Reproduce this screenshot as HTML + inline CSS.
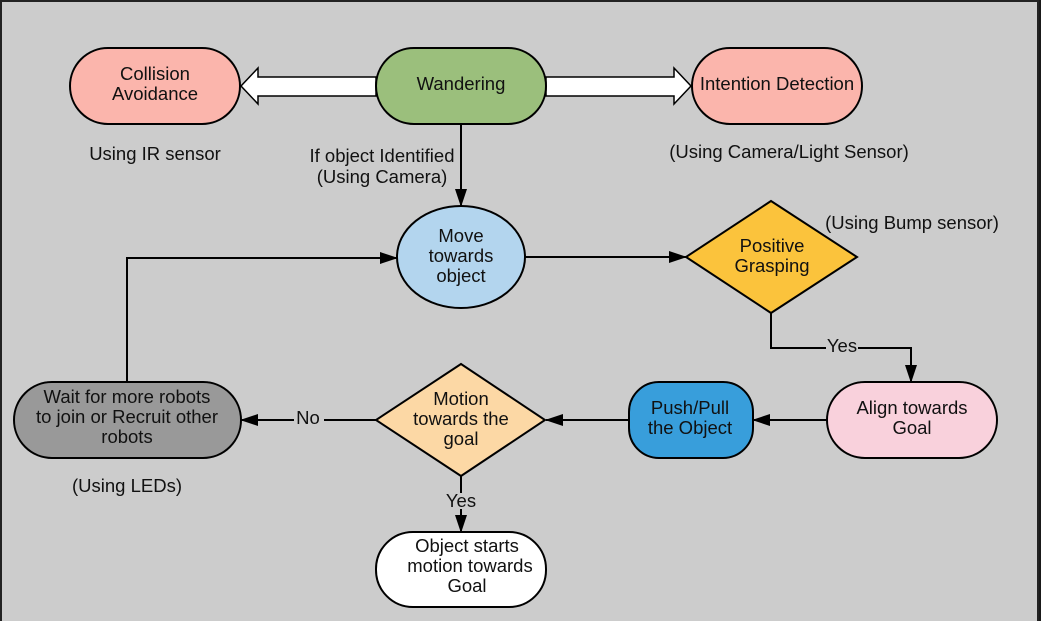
<!DOCTYPE html>
<html><head><meta charset="utf-8"><style>
html,body{margin:0;padding:0;background:#1a1a1a;}
svg{display:block;}
text{font-family:"Liberation Sans",sans-serif;font-size:18.5px;fill:#111;text-anchor:middle;}
</style></head><body>
<svg width="1041" height="621" viewBox="0 0 1041 621" xmlns="http://www.w3.org/2000/svg">
<defs><marker id="b" markerWidth="18" markerHeight="12" refX="17" refY="6" orient="auto" markerUnits="userSpaceOnUse"><path d="M0,0 L18,6 L0,12 z" fill="#000"/></marker></defs>
<rect x="1" y="1" width="1037" height="630" fill="#cccccc" stroke="#222" stroke-width="2"/>
<path d="M376,77 L258,77 L258,68 L241,86 L258,104 L258,96 L376,96 Z" fill="#fff" stroke="#000" stroke-width="1.5"/>
<path d="M546,77 L674,77 L674,68 L691,86 L674,104 L674,96 L546,96 Z" fill="#fff" stroke="#000" stroke-width="1.5"/>
<rect x="70" y="48" width="170" height="76" rx="38" fill="#fbb5ac" stroke="#000" stroke-width="2"/>
<text x="155" y="80">Collision</text><text x="155" y="100">Avoidance</text>
<rect x="376" y="48" width="170" height="76" rx="38" fill="#9bbf7c" stroke="#000" stroke-width="2"/>
<text x="461" y="90">Wandering</text>
<rect x="692" y="48" width="170" height="76" rx="38" fill="#fbb5ac" stroke="#000" stroke-width="2"/>
<text x="777" y="90">Intention Detection</text>
<text x="155" y="160">Using IR sensor</text>
<text x="789" y="158">(Using Camera/Light Sensor)</text>
<text x="382" y="162">If object Identified</text><text x="382" y="183">(Using Camera)</text>
<line x1="461" y1="124" x2="461" y2="206" stroke="#000" stroke-width="2" marker-end="url(#b)"/>
<ellipse cx="461" cy="257" rx="64" ry="51" fill="#b3d5ee" stroke="#000" stroke-width="2"/>
<text x="461" y="242">Move</text><text x="461" y="262">towards</text><text x="461" y="282">object</text>
<line x1="525" y1="257" x2="686" y2="257" stroke="#000" stroke-width="2" marker-end="url(#b)"/>
<polygon points="771,201 857,257 771,313 686,257" fill="#fbc33c" stroke="#000" stroke-width="2"/>
<text x="772" y="252">Positive</text><text x="772" y="272">Grasping</text>
<text x="912" y="229">(Using Bump sensor)</text>
<polyline points="771,313 771,348 911,348 911,382" fill="none" stroke="#000" stroke-width="2" marker-end="url(#b)"/>
<rect x="826" y="340" width="32" height="14" fill="#ccc"/><text x="842" y="352">Yes</text>
<rect x="827" y="382" width="170" height="76" rx="38" fill="#f9d1dc" stroke="#000" stroke-width="2"/>
<text x="912" y="414">Align towards</text><text x="912" y="434">Goal</text>
<line x1="827" y1="420" x2="753" y2="420" stroke="#000" stroke-width="2" marker-end="url(#b)"/>
<rect x="629" y="382" width="124" height="76" rx="30" fill="#389edb" stroke="#000" stroke-width="2"/>
<text x="690" y="414">Push/Pull</text><text x="690" y="434">the Object</text>
<line x1="629" y1="420" x2="546" y2="420" stroke="#000" stroke-width="2" marker-end="url(#b)"/>
<polygon points="461,364 545,420 461,476 376,420" fill="#fcd8a5" stroke="#000" stroke-width="2"/>
<text x="461" y="405">Motion</text><text x="461" y="425">towards the</text><text x="461" y="445">goal</text>
<line x1="376" y1="420" x2="241" y2="420" stroke="#000" stroke-width="2" marker-end="url(#b)"/>
<rect x="294" y="412" width="30" height="14" fill="#ccc"/><text x="308" y="424">No</text>
<rect x="14" y="382" width="227" height="76" rx="38" fill="#999999" stroke="#000" stroke-width="2"/>
<text x="127" y="403">Wait for more robots</text><text x="127" y="423">to join or Recruit other</text><text x="127" y="443">robots</text>
<text x="127" y="492">(Using LEDs)</text>
<polyline points="127,382 127,258 397,258" fill="none" stroke="#000" stroke-width="2" marker-end="url(#b)"/>
<line x1="461" y1="476" x2="461" y2="532" stroke="#000" stroke-width="2" marker-end="url(#b)"/>
<rect x="444" y="493" width="34" height="16" fill="#ccc"/><text x="461" y="507">Yes</text>
<rect x="376" y="532" width="170" height="75" rx="37" fill="#fff" stroke="#000" stroke-width="2"/>
<text x="467" y="552">Object starts</text><text x="470" y="572">motion towards</text><text x="467" y="592">Goal</text>
</svg>
</body></html>
